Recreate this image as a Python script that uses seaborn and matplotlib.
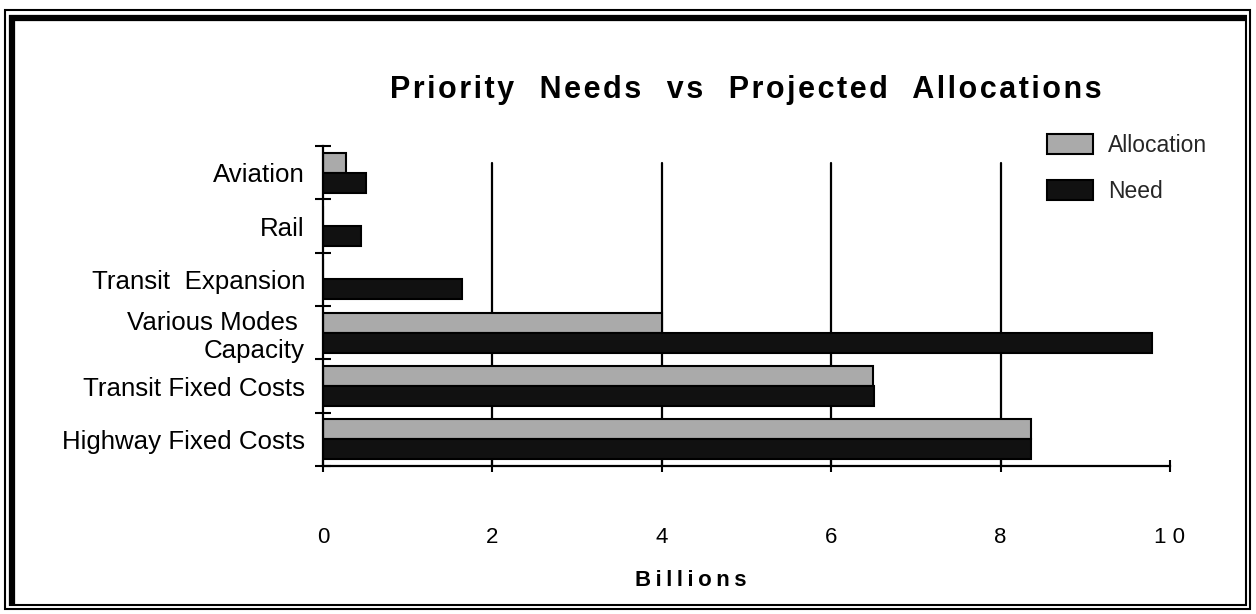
import matplotlib
matplotlib.use("Agg")
import matplotlib.pyplot as plt
import seaborn as sns
import pandas as pd
import numpy as np
from matplotlib.patches import Patch, Rectangle
from matplotlib.lines import Line2D

# ---- data ----
categories = ["Aviation", "Rail", "Transit  Expansion", "Various Modes \nCapacity",
              "Transit Fixed Costs", "Highway Fixed Costs"]
allocation = [0.27, 0.0, 0.0, 4.0, 6.49, 8.36]
need = [0.51, 0.45, 1.64, 9.79, 6.50, 8.36]
series_names = ["Allocation", "Need"]
series_colors = ["#aaaaaa", "#111111"]
x_ticks = [0, 2, 4, 6, 8, 10]
x_tick_labels = ["0", "2", "4", "6", "8", "1 0"]
title_words = ["Priority", "Needs", "vs", "Projected", "Allocations"]
xlabel_word = "Billions"

def letter_spaced(word, sep):
    return sep.join(word)

title_text = "   ".join(letter_spaced(w, "\u200a") for w in title_words)
xlabel_text = letter_spaced(xlabel_word, "\u2009")

df = pd.DataFrame({
    "Category": categories * 2,
    "Billions": allocation + need,
    "Series": [series_names[0]] * len(categories) + [series_names[1]] * len(categories),
})

sns.set_theme(style="white")
plt.rcParams["font.family"] = ["Liberation Sans", "DejaVu Sans"]

W, H = 1256, 614
fig = plt.figure(figsize=(W / 100, H / 100), dpi=100)
fig.patch.set_facecolor("white")

def fx(x):
    return x / W

def fy(y):
    return 1 - y / H

ax = fig.add_axes([fx(323), fy(466), (1170 - 323) / W, (466 - 146) / H])
sns.barplot(data=df, y="Category", x="Billions", hue="Series", order=categories,
            hue_order=series_names, palette=series_colors, orient="h", width=0.75,
            edgecolor="black", linewidth=1.5, saturation=1, ax=ax, legend=False)

ax.set_xlim(0, 10)
ax.set_ylim(len(categories) - 0.5, -0.5)
ax.set_xlabel("")
ax.set_ylabel("")

for xv in x_ticks[1:-1]:
    ax.axvline(xv, ymin=0, ymax=0.947, color="black", lw=1.6, zorder=0.5)

for s in ["top", "right"]:
    ax.spines[s].set_visible(False)
for s in ["left", "bottom"]:
    ax.spines[s].set_color("black")
    ax.spines[s].set_linewidth(1.6)

ax.set_xticks(x_ticks)
ax.set_xticklabels(x_tick_labels)
ax.tick_params(axis="x", direction="inout", length=8.6, width=1.5, pad=39.5,
               labelsize=16, colors="black", bottom=True)

ax.set_yticks(np.arange(-0.5, len(categories) + 0.5, 1.0))
ax.set_yticklabels([""] * (len(categories) + 1))
ax.set_yticks(np.arange(len(categories)), minor=True)
ax.set_yticklabels(categories, minor=True)
ax.tick_params(axis="y", which="major", direction="inout", length=12, width=1.5,
               left=True, colors="black")
ax.tick_params(axis="y", which="minor", length=0, pad=13, labelsize=18.6,
               labelcolor="black", left=True)

# legend
handles = [Patch(facecolor=c, edgecolor="black", linewidth=1.5) for c in series_colors]
fig.legend(handles, series_names, loc="upper left",
           bbox_to_anchor=(fx(1047), fy(134)), frameon=False, fontsize=16.5,
           handlelength=2.0, handleheight=0.95, labelspacing=1.0,
           handletextpad=0.65, borderpad=0, borderaxespad=0)

# title and x label
fig.text(fx(746), fy(90), title_text, ha="center", va="center",
         fontsize=22, fontweight="bold", color="black")
fig.text(fx(691), fy(580), xlabel_text, ha="center", va="center",
         fontsize=16, fontweight="bold", color="black")

# double frame
fig.add_artist(Rectangle((fx(5), fy(609)), fx(1250) - fx(5), fy(10) - fy(609),
                         transform=fig.transFigure, fill=False, edgecolor="black",
                         linewidth=1.5))
frame_kw = dict(transform=fig.transFigure, color="black", solid_capstyle="butt")
fig.add_artist(Line2D([fx(12), fx(12)], [fy(15), fy(606)], linewidth=4.5, **frame_kw))
fig.add_artist(Line2D([fx(9), fx(1247)], [fy(18), fy(18)], linewidth=4.5, **frame_kw))
fig.add_artist(Line2D([fx(1246), fx(1246)], [fy(15), fy(606)], linewidth=1.5, **frame_kw))
fig.add_artist(Line2D([fx(9), fx(1247)], [fy(605), fy(605)], linewidth=1.5, **frame_kw))

fig.savefig("out.png", dpi=100, facecolor="white")
